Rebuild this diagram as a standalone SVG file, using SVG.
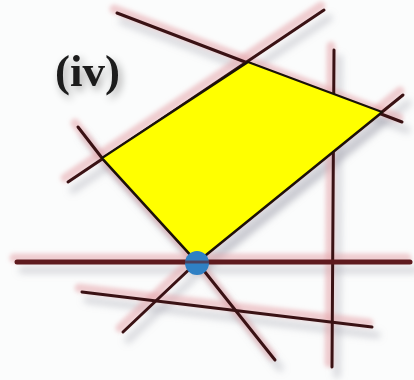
<svg xmlns="http://www.w3.org/2000/svg" width="414" height="380" viewBox="0 0 414 380">
<defs>
<filter id="sh" x="-20%" y="-20%" width="140%" height="140%">
<feGaussianBlur stdDeviation="3.5"/>
</filter>
<filter id="soft" x="-20%" y="-20%" width="140%" height="140%">
<feGaussianBlur stdDeviation="2"/>
</filter>
<filter id="tsh" x="-30%" y="-30%" width="160%" height="160%">
<feGaussianBlur in="SourceAlpha" stdDeviation="4" result="b"/>
<feOffset in="b" dx="3" dy="4" result="o"/>
<feComponentTransfer in="o" result="s"><feFuncA type="linear" slope="0.35"/></feComponentTransfer>
<feMerge><feMergeNode in="s"/><feMergeNode in="SourceGraphic"/></feMerge>
</filter>
</defs>
<style>
.gs{fill:none;stroke:#a0a0ac;stroke-width:7;stroke-opacity:0.4;stroke-linecap:round;stroke-linejoin:round}
.pk{fill:none;stroke:#e6a6ab;stroke-width:9;stroke-opacity:0.55;stroke-linecap:round;stroke-linejoin:round}
.ln{fill:none;stroke:#3a1214;stroke-width:3;stroke-linecap:round;stroke-linejoin:round}
.thick{stroke:#5e1a1e;stroke-width:5}
.poly{fill:#ffff00;stroke:#1a1208;stroke-width:2.2;stroke-linejoin:round}
.lbl{font-family:"Liberation Serif","Times New Roman",serif;font-weight:bold;font-size:45px;fill:#1c1c1c}
</style>
<rect width="414" height="380" fill="#fbfcfc"/>
<g id="lines-shadow" filter="url(#sh)" transform="translate(5,8)">
<path class="gs" d="M117,13 L402,122"/>
<path class="gs" d="M68,182 L324,10"/>
<path class="gs" d="M334,50 L332,367"/>
<path class="gs" d="M78,127 L102,158 L197,262 L275,360"/>
<path class="gs" d="M17,262 L410,262"/>
<path class="gs" d="M82,292 L372,327"/>
<path class="gs" d="M123,332 L197,262 L382,112 L403,95"/>
<path class="gs" d="M102,158 L248,62 L382,112 L197,262 Z" style="stroke-width:4;fill:#a0a0ac;fill-opacity:0.3"/>
</g>
<g id="lines-pink" filter="url(#soft)" transform="translate(-3,-4)">
<path class="pk" d="M117,13 L402,122"/>
<path class="pk" d="M68,182 L324,10"/>
<path class="pk" d="M334,50 L332,367"/>
<path class="pk" d="M78,127 L102,158 L197,262 L275,360"/>
<path class="pk" d="M17,262 L410,262"/>
<path class="pk" d="M82,292 L372,327"/>
<path class="pk" d="M123,332 L197,262 L382,112 L403,95"/>
</g>
<g id="lines">
<path class="ln" d="M117,13 L402,122"/>
<path class="ln" d="M68,182 L324,10"/>
<path class="ln" d="M334,50 L332,367"/>
<path class="ln" d="M78,127 L102,158 L197,262 L275,360"/>
<path class="ln thick" d="M17,262 L410,262"/>
<path class="ln" d="M82,292 L372,327"/>
<path class="ln" d="M123,332 L197,262 L382,112 L403,95"/>
</g>
<g id="region">
<path class="poly" d="M102,158 L248,62 L382,112 L197,262 Z"/>
</g>
<g id="vertex">
<circle cx="197" cy="263" r="12" fill="#2f80c4"/>
<path d="M185,262 L209,262" stroke="#5e1a1e" stroke-width="3" opacity="0.6"/>
</g>
<g id="label">
<text class="lbl" x="55" y="86" filter="url(#tsh)">(iv)</text>
</g>
</svg>
